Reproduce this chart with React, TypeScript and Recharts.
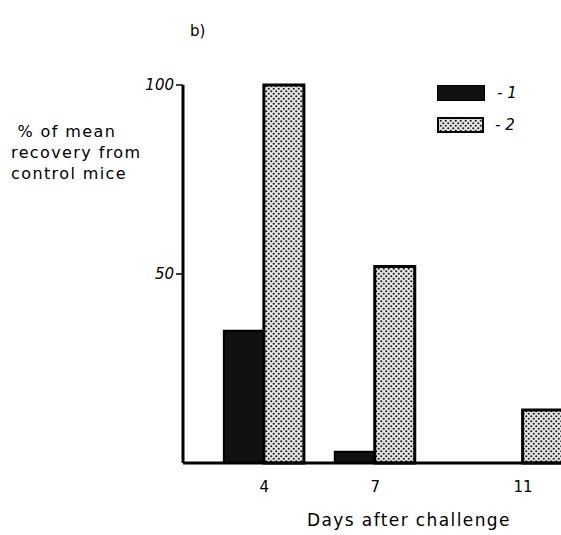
import { BarChart, Bar, XAxis, YAxis } from 'recharts';

const days = [4, 7, 11];
const series1 = [35, 3, 0];
const series2 = [100, 52, 14];
const yTicks = [50, 100];

const data = days.map((day, i) => ({ day, s1: series1[i], s2: series2[i] }));

const FONT = '"DejaVu Sans", sans-serif';

function LegendBox() {
  return (
    <div
      style={{
        position: 'absolute',
        left: 437,
        top: 85,
        fontFamily: FONT,
        fontSize: 15,
        fontStyle: 'italic',
      }}
    >
      <div style={{ display: 'flex', alignItems: 'center', height: 16, marginBottom: 16 }}>
        <div style={{ width: 46, height: 14, background: '#111', border: '1px solid #000' }} />
        <span style={{ marginLeft: 12 }}>- 1</span>
      </div>
      <div style={{ display: 'flex', alignItems: 'center', height: 16 }}>
        <svg width={48} height={17}>
          <rect x={1} y={1} width={45} height={14} fill="url(#dots)" stroke="#000" strokeWidth={2} />
        </svg>
        <span style={{ marginLeft: 10 }}>- 2</span>
      </div>
    </div>
  );
}

export default function App() {
  return (
    <div
      style={{
        position: 'absolute',
        left: 0,
        top: 0,
        width: 561,
        height: 535,
        overflow: 'hidden',
        background: '#fff',
      }}
    >
      <svg width={0} height={0} style={{ position: 'absolute' }}>
        <defs>
          <pattern id="dots" width={5} height={5} patternUnits="userSpaceOnUse">
            <rect width={5} height={5} fill="#e6e6e6" />
            <circle cx={1.25} cy={1.25} r={1.1} fill="#222" />
            <circle cx={3.75} cy={3.75} r={1.1} fill="#222" />
          </pattern>
        </defs>
      </svg>

      <div style={{ position: 'absolute', left: 190, top: 22, fontFamily: FONT, fontSize: 15 }}>b)</div>

      <div
        style={{
          position: 'absolute',
          left: 11,
          top: 121,
          fontFamily: FONT,
          fontSize: 16,
          letterSpacing: 1.4,
          lineHeight: '21px',
        }}
      >
        &nbsp;% of mean
        <br />
        recovery from
        <br />
        control mice
      </div>

      <div
        style={{
          position: 'absolute',
          left: 307,
          top: 510,
          fontFamily: FONT,
          fontSize: 17,
          letterSpacing: 1.4,
        }}
      >
        Days after challenge
      </div>

      <LegendBox />

      <BarChart
        width={600}
        height={535}
        data={data}
        margin={{ top: 85, right: 3, bottom: 42, left: 143 }}
        barGap={0}
        barSize={40}
      >
        <XAxis
          dataKey="day"
          type="number"
          domain={[1.8, 13]}
          ticks={days}
          tickLine={false}
          axisLine={{ stroke: '#000', strokeWidth: 3 }}
          height={30}
          tickMargin={12}
          tick={{ fill: '#000', fontFamily: FONT, fontSize: 15 }}
          allowDataOverflow
        />
        <YAxis
          type="number"
          domain={[0, 100]}
          ticks={yTicks}
          width={40}
          tickSize={7}
          tickMargin={2}
          axisLine={{ stroke: '#000', strokeWidth: 3 }}
          tickLine={{ stroke: '#000', strokeWidth: 1.5 }}
          tick={{ fill: '#000', fontFamily: FONT, fontSize: 15, fontStyle: 'italic' }}
        />
        <Bar dataKey="s1" fill="#111" stroke="#000" strokeWidth={2} isAnimationActive={false} />
        <Bar dataKey="s2" fill="url(#dots)" stroke="#000" strokeWidth={3} isAnimationActive={false} />
      </BarChart>
    </div>
  );
}
